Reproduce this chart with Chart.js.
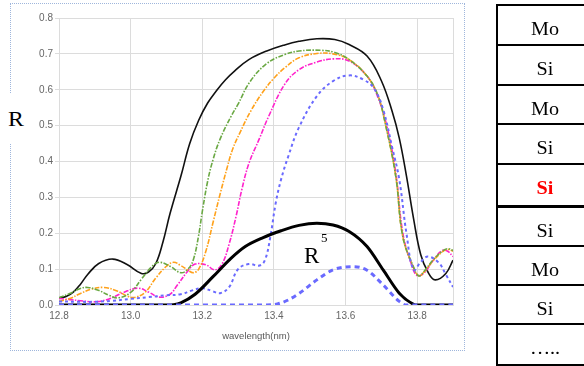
<!DOCTYPE html>
<html>
<head>
<meta charset="utf-8">
<script src="https://cdn.jsdelivr.net/npm/chart.js@4/dist/chart.umd.min.js"></script>
<style>
  html, body { margin:0; padding:0; background:#fff; width:584px; height:366px; overflow:hidden; }
  #frame { position:absolute; left:10px; top:3px; width:453px; height:346px; border:1px dotted #9fb6dc; }
  #wrap { position:absolute; left:0; top:0; width:584px; height:366px; }
  .serif { font-family:"Liberation Serif","Times New Roman",serif; position:absolute; line-height:1; white-space:nowrap; }
  .cell { position:absolute; left:496px; width:110px; border-left:2px solid #000; border-top:2px solid #000; box-sizing:border-box; }
  .cell span { position:absolute; left:0; width:94px; text-align:center; font-family:"Liberation Serif","Times New Roman",serif; font-size:18px; line-height:18px; transform:scaleX(1.12); }
</style>
</head>
<body>
<div id="frame"></div>
<div class="serif" style="left:4px; top:93px; width:26px; height:50px; background:#fff;"></div>
<div class="serif" style="left:8px; top:108px; font-size:22px; transform:scaleX(1.08); transform-origin:left;">R</div>
<div id="wrap"><canvas id="c"></canvas></div>
<div class="serif" style="left:304px; top:244px; font-size:23px;">R</div>
<div class="serif" style="left:321px; top:231px; font-size:13px;">5</div>
<div id="table"></div>
<script>
// ---- data ----
const xTickValues = [12.8, 13.0, 13.2, 13.4, 13.6, 13.8, 13.9];
const xTickLabels = ['12.8', '13.0', '13.2', '13.4', '13.6', '13.8', ''];
const yTickValues = [0, 0.1, 0.2, 0.3, 0.4, 0.5, 0.6, 0.7, 0.8];
const xTitle = 'wavelength(nm)';

const wlTotal = [12.80,12.82,12.84,12.86,12.88,12.91,12.95,12.99,13.03,13.05,13.07,13.09,13.11,13.14,13.165,13.19,13.215,13.24,13.265,13.29,13.33,13.38,13.43,13.47,13.52,13.57,13.61,13.66,13.70,13.73,13.75,13.77,13.79,13.81,13.83,13.85,13.88,13.90];
const rTotal  = [0.020,0.024,0.036,0.058,0.085,0.115,0.128,0.113,0.088,0.092,0.115,0.175,0.255,0.358,0.450,0.515,0.563,0.598,0.628,0.652,0.684,0.708,0.725,0.735,0.742,0.740,0.726,0.694,0.625,0.540,0.465,0.360,0.240,0.140,0.092,0.070,0.088,0.125];

const wlGreen = [12.80,12.83,12.86,12.88,12.91,12.94,12.965,13.00,13.03,13.06,13.08,13.11,13.14,13.16,13.175,13.19,13.20,13.215,13.23,13.25,13.28,13.30,13.333,13.38,13.43,13.47,13.53,13.57,13.61,13.66,13.69,13.71,13.74,13.76,13.79,13.805,13.82,13.845,13.87,13.885,13.90];
const rGreen  = [0.020,0.032,0.046,0.049,0.041,0.027,0.020,0.035,0.072,0.108,0.119,0.108,0.090,0.100,0.126,0.195,0.260,0.345,0.405,0.463,0.525,0.560,0.622,0.673,0.698,0.708,0.710,0.704,0.684,0.638,0.585,0.510,0.360,0.190,0.105,0.081,0.095,0.126,0.150,0.157,0.152];

const wlOrange = [12.80,12.83,12.86,12.89,12.925,12.96,12.99,13.01,13.04,13.07,13.10,13.12,13.14,13.16,13.175,13.19,13.21,13.23,13.25,13.27,13.285,13.305,13.335,13.37,13.40,13.43,13.47,13.52,13.565,13.61,13.66,13.69,13.71,13.74,13.76,13.79,13.805,13.82,13.845,13.87,13.885,13.90];
const rOrange  = [0.010,0.018,0.032,0.044,0.049,0.040,0.025,0.021,0.035,0.075,0.108,0.119,0.110,0.097,0.090,0.100,0.150,0.230,0.310,0.385,0.435,0.480,0.540,0.595,0.632,0.661,0.689,0.701,0.700,0.684,0.638,0.585,0.510,0.360,0.190,0.105,0.081,0.093,0.124,0.148,0.155,0.150];

const wlPink = [12.80,12.83,12.86,12.90,12.94,12.98,13.02,13.05,13.08,13.11,13.13,13.16,13.18,13.21,13.235,13.255,13.275,13.295,13.31,13.33,13.36,13.385,13.43,13.47,13.52,13.565,13.61,13.66,13.69,13.715,13.74,13.76,13.785,13.80,13.82,13.845,13.87,13.885,13.90];
const rPink  = [0.018,0.015,0.012,0.009,0.017,0.035,0.047,0.036,0.022,0.030,0.055,0.095,0.114,0.112,0.098,0.114,0.170,0.250,0.320,0.394,0.465,0.525,0.615,0.656,0.677,0.686,0.680,0.638,0.580,0.500,0.370,0.200,0.110,0.082,0.090,0.125,0.152,0.150,0.135];

const wlBlue = [12.80,12.85,12.90,12.95,13.00,13.05,13.10,13.14,13.17,13.20,13.23,13.25,13.275,13.30,13.33,13.36,13.375,13.39,13.405,13.42,13.44,13.47,13.52,13.565,13.61,13.65,13.68,13.705,13.73,13.75,13.77,13.79,13.81,13.83,13.86,13.88,13.90];
const rBlue  = [0.010,0.009,0.009,0.012,0.017,0.022,0.027,0.030,0.040,0.047,0.038,0.033,0.050,0.100,0.114,0.110,0.125,0.190,0.284,0.350,0.414,0.495,0.582,0.624,0.640,0.628,0.603,0.545,0.440,0.350,0.200,0.098,0.120,0.135,0.118,0.085,0.050];

const wlR5 = [12.80,13.10,13.12,13.14,13.18,13.23,13.28,13.32,13.37,13.42,13.47,13.52,13.565,13.61,13.66,13.705,13.75,13.79,13.80,13.90];
const rR5  = [0,0,0.001,0.006,0.030,0.079,0.130,0.163,0.188,0.207,0.222,0.228,0.223,0.205,0.163,0.098,0.033,0.002,0,0];

const wlR5b = [12.80,13.38,13.41,13.44,13.47,13.52,13.565,13.62,13.66,13.705,13.75,13.77,13.90];
const rR5b  = [0,0,0.003,0.014,0.032,0.070,0.098,0.107,0.097,0.056,0.010,0,0];

const layers = ['Mo','Si','Mo','Si','Si','Si','Mo','Si','…..'];
const highlightLayer = 4;

// ---- build ----
const pts = (xs, ys) => xs.map((x, i) => ({x: x, y: ys[i]}));
const smooth = { pointRadius: 0, tension: 0.4, fill: false };
const mono = { pointRadius: 0, cubicInterpolationMode: 'monotone', fill: false };
const dashDot = [5, 1.5, 1.5, 1.5];

const datasets = [
  Object.assign({ data: pts(wlR5b, rR5b), borderColor: '#6a6aff', borderWidth: 3, borderDash: [5, 4] }, mono),
  Object.assign({ data: pts(wlR5, rR5), borderColor: '#000000', borderWidth: 3 }, mono),
  Object.assign({ data: pts(wlBlue, rBlue), borderColor: '#6a6aff', borderWidth: 2, borderDash: [3, 3] }, smooth),
  Object.assign({ data: pts(wlGreen, rGreen), borderColor: '#6aa843', borderWidth: 1.6, borderDash: dashDot }, smooth),
  Object.assign({ data: pts(wlOrange, rOrange), borderColor: '#ffa11a', borderWidth: 1.6, borderDash: dashDot }, smooth),
  Object.assign({ data: pts(wlPink, rPink), borderColor: '#ff22cc', borderWidth: 1.6, borderDash: dashDot }, smooth),
  Object.assign({ data: pts(wlTotal, rTotal), borderColor: '#111111', borderWidth: 1.6 }, smooth),
];

const tickFont = { family: '"Liberation Sans", Arial, sans-serif', size: 10 };
const titleFont = { family: '"Liberation Sans", Arial, sans-serif', size: 9.5 };

new Chart(document.getElementById('c'), {
  type: 'line',
  data: { datasets: datasets },
  options: {
    responsive: true,
    maintainAspectRatio: false,
    animation: false,
    layout: { padding: { left: 19, right: 131, top: 18, bottom: 24 } },
    plugins: { legend: { display: false }, tooltip: { enabled: false } },
    scales: {
      x: {
        type: 'linear', min: 12.8, max: 13.9,
        afterBuildTicks: s => { s.ticks = xTickValues.map(v => ({ value: v })); },
        afterFit: s => { s.height = 37; },
        ticks: {
          callback: (v, i) => xTickLabels[i],
          color: '#666', font: tickFont, padding: 5, maxRotation: 0, autoSkip: false
        },
        grid: { color: '#dcdcdc', drawTicks: false },
        border: { color: '#dcdcdc' },
        title: { display: true, text: xTitle, color: '#595959', font: titleFont, padding: { top: 1, bottom: 0 } }
      },
      y: {
        type: 'linear', min: 0, max: 0.8,
        afterBuildTicks: s => { s.ticks = yTickValues.map(v => ({ value: v })); },
        afterFit: s => { s.width = 40; },
        ticks: { callback: v => v.toFixed(1), color: '#666', font: tickFont, padding: 2 },
        grid: { color: '#dcdcdc', tickLength: 4 },
        border: { color: '#dcdcdc' }
      }
    }
  }
});

// layer stack diagram
const rowTops = [4, 44, 84, 123, 163, 205, 245, 284, 323];
const tbl = document.getElementById('table');
layers.forEach((name, i) => {
  const d = document.createElement('div');
  d.className = 'cell';
  const top = rowTops[i];
  const last = i + 1 >= rowTops.length;
  const bottom = last ? 366 : rowTops[i + 1];
  d.style.top = top + 'px';
  d.style.height = (bottom - top) + 'px';
  if (last) d.style.borderBottom = '2px solid #000';
  if (i === 5) d.style.borderTopWidth = '3px';
  const s = document.createElement('span');
  s.textContent = name;
  s.style.top = '14px';
  if (i === highlightLayer) { s.style.color = '#ff0000'; s.style.fontWeight = 'bold'; }
  d.appendChild(s);
  tbl.appendChild(d);
});
</script>
</body>
</html>
